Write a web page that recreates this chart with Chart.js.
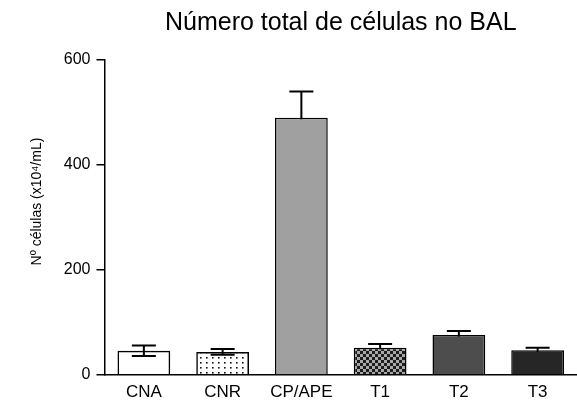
<!DOCTYPE html>
<html>
<head>
<meta charset="utf-8">
<script src="https://cdn.jsdelivr.net/npm/chart.js@4.4.0/dist/chart.umd.min.js"></script>
<style>
  html, body { margin: 0; padding: 0; background: #fff; }
  #wrap { width: 577px; height: 401px; }
</style>
</head>
<body>
<div id="wrap"><canvas id="grafico"></canvas></div>
<script>
// Datos del gráfico
const grupos = ['CNA', 'CNR', 'CP/APE', 'T1', 'T2', 'T3'];
const medias = [46, 44, 490, 52, 76, 47];
const erros = [10, 5.5, 50, 7, 8, 5];
const ticksY = [0, 200, 400, 600];

// Patrón de puntos (CNR)
function patronPuntos() {
    let c = document.createElement('canvas');
    c.width = 6; c.height = 5;
    let g = c.getContext('2d');
    g.fillStyle = '#111';
    g.fillRect(2, 2, 1.6, 1.6);
    return g.createPattern(c, 'repeat');
}

// Patrón cuadriculado (T1)
function patronXadrez() {
    let c = document.createElement('canvas');
    c.width = 6; c.height = 6;
    let g = c.getContext('2d');
    g.fillStyle = '#1c1c1c';
    g.fillRect(0, 0, 6, 6);
    g.fillStyle = '#a8a8a8';
    g.fillRect(0, 0, 3, 3);
    g.fillRect(3, 3, 3, 3);
    return g.createPattern(c, 'repeat');
}

const fondos = ['rgba(255,255,255,0)', patronPuntos(), '#a0a0a0', patronXadrez(), '#4d4d4d', '#262626'];

// Plugin para las barras de error (dibujadas detrás de las barras)
const barrasErro = {
    id: 'barrasErro',
    beforeDatasetsDraw(chart) {
        const ctx = chart.ctx;
        const y = chart.scales.y;
        const meta = chart.getDatasetMeta(0);
        ctx.save();
        ctx.strokeStyle = '#000';
        ctx.lineWidth = 2;
        meta.data.forEach(function (bar, i) {
            const x = bar.x;
            const alto = y.getPixelForValue(medias[i] + erros[i]);
            const bajo = y.getPixelForValue(medias[i] - erros[i]);
            ctx.beginPath();
            ctx.moveTo(x, alto); ctx.lineTo(x, bajo);
            ctx.moveTo(x - 12, alto); ctx.lineTo(x + 12, alto);
            ctx.moveTo(x - 12, bajo); ctx.lineTo(x + 12, bajo);
            ctx.stroke();
        });
        ctx.restore();
    }
};

const fuente = 'Arial, "Liberation Sans", sans-serif';

new Chart(document.getElementById('grafico'), {
    type: 'bar',
    data: {
        labels: grupos,
        datasets: [{
            data: medias,
            backgroundColor: fondos,
            borderColor: '#000',
            borderWidth: 1.5,
            barPercentage: 0.67,
            categoryPercentage: 1
        }]
    },
    options: {
        responsive: true,
        maintainAspectRatio: false,
        animation: false,
        layout: { padding: { left: 29, right: 0, top: 0, bottom: 0 } },
        plugins: {
            legend: { display: false },
            tooltip: { enabled: false },
            title: {
                display: true,
                text: 'Número total de células no BAL',
                color: '#000',
                fullSize: false,
                font: { family: fuente, size: 25, weight: 'normal' },
                padding: { top: 8, bottom: 22 }
            }
        },
        scales: {
            x: {
                grid: { display: false, drawTicks: false, tickLength: 0 },
                border: { display: true, color: '#000', width: 1.5 },
                ticks: { color: '#000', font: { family: fuente, size: 17 }, padding: 7, maxRotation: 0 },
                afterFit(scale) { scale.height = 26; }
            },
            y: {
                min: 0,
                max: 600,
                afterBuildTicks(axis) {
                    axis.ticks = ticksY.map(v => ({ value: v }));
                },
                grid: { drawOnChartArea: false, drawTicks: true, tickLength: 8, color: '#000', lineWidth: 1.5 },
                border: { display: true, color: '#000', width: 1.5 },
                ticks: { color: '#000', font: { family: fuente, size: 16 }, padding: 6 },
                title: {
                    display: true,
                    // espacios iniciales para subir el texto como en el original
                    text: '\u2003\u2003 Nº células (x10⁴/mL)',
                    color: '#000',
                    font: { family: fuente, size: 14 },
                    padding: { top: 0, bottom: 12 }
                }
            }
        }
    },
    plugins: [barrasErro]
});
</script>
</body>
</html>
